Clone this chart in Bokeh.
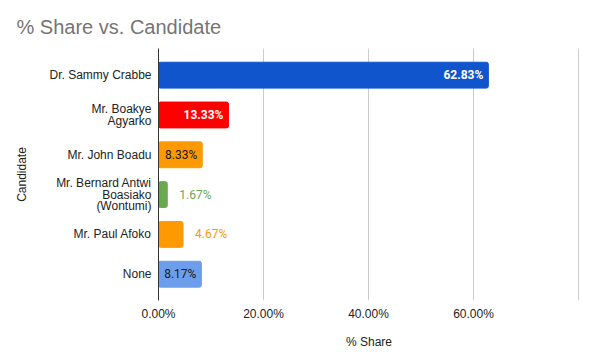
from bokeh.plotting import figure
from bokeh.models import ColumnDataSource, FixedTicker, PrintfTickFormatter, Range1d
from bokeh.core.properties import value
from bokeh.embed import file_html
from bokeh.resources import INLINE

candidates = ["Dr. Sammy Crabbe", "Mr. Boakye\nAgyarko", "Mr. John Boadu",
              "Mr. Bernard Antwi\nBoasiako\n(Wontumi)", "Mr. Paul Afoko", "None"]
shares = [62.83, 13.33, 8.33, 1.67, 4.67, 8.17]
bar_colors = ["#1155cc", "#ff0000", "#ff9900", "#6aa84f", "#ff9900", "#6d9eeb"]
label_colors = ["#ffffff", "#ffffff", "#1a1a1a", "#6aa84f", "#ff9900", "#1a1a1a"]
label_styles = ["bold", "bold", "normal", "normal", "normal", "normal"]
label_inside = [True, True, True, False, False, True]
x_ticks = [0, 20, 40, 60]
grid_ticks = [20, 40, 60, 80]

n = len(candidates)
ypos = list(range(n - 1, -1, -1))
src = ColumnDataSource(dict(
    y=ypos, share=shares, color=bar_colors,
    label=["%.2f%%" % s for s in shares],
    lcolor=label_colors, lstyle=label_styles,
    align=["right" if i else "left" for i in label_inside],
    xoff=[-5 if i else 12 for i in label_inside],
))

FONT = "Liberation Sans"
p = figure(width=581, height=354, output_backend="svg", toolbar_location=None,
           x_range=Range1d(0, 80.19), y_range=Range1d(-0.66, n - 1 + 0.67),
           min_border_left=158, min_border_right=2, min_border_top=48, min_border_bottom=54)
p.outline_line_color = None

p.hbar(y="y", right="share", left=0, height=0.65, color="color", border_radius=2, source=src)
p.text(x="share", y="y", text="label", text_color="lcolor", text_font_style="lstyle",
       text_align="align", x_offset="xoff", text_baseline="middle",
       text_font=value("Roboto"), text_font_size="12px", source=src)

p.title.text = "% Share vs. Candidate"
p.title.text_font = FONT
p.title.text_font_size = "20px"
p.title.text_font_style = "normal"
p.title.text_color = "#757575"
p.title.offset = -142
p.title.standoff = 21

xa = p.xaxis[0]
xa.ticker = FixedTicker(ticks=x_ticks)
xa.formatter = PrintfTickFormatter(format="%.2f%%")
xa.axis_line_color = None
xa.major_tick_line_color = None
xa.minor_tick_line_color = None
xa.major_tick_out = 0
xa.major_tick_in = 0
xa.minor_tick_out = 0
xa.major_label_text_font = FONT
xa.major_label_text_font_size = "12px"
xa.major_label_text_color = "#222222"
xa.major_label_standoff = 6
xa.axis_label = "% Share"
xa.axis_label_text_font = FONT
xa.axis_label_text_font_size = "12px"
xa.axis_label_text_font_style = "normal"
xa.axis_label_text_color = "#222222"
xa.axis_label_standoff = 11

ya = p.yaxis[0]
ya.ticker = FixedTicker(ticks=ypos)
ya.major_label_overrides = {y: c for y, c in zip(ypos, candidates)}
ya.axis_line_color = "#333333"
ya.major_tick_line_color = None
ya.minor_tick_line_color = None
ya.major_tick_out = 0
ya.major_tick_in = 0
ya.minor_tick_out = 0
ya.major_label_text_font = FONT
ya.major_label_text_font_size = "12px"
ya.major_label_text_color = "#222222"
ya.major_label_text_line_height = 0.8
ya.major_label_standoff = 7
ya.axis_label = "Candidate"
ya.axis_label_text_font = FONT
ya.axis_label_text_font_size = "12px"
ya.axis_label_text_font_style = "normal"
ya.axis_label_text_color = "#222222"
ya.axis_label_standoff = 17

p.xgrid.ticker = FixedTicker(ticks=grid_ticks)
p.xgrid.grid_line_color = "#cccccc"
p.ygrid.grid_line_color = None

open("out.html", "w").write(file_html(p, INLINE))
